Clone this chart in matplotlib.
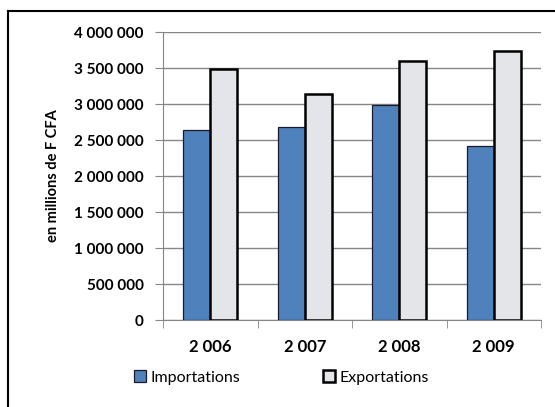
import numpy as np
import matplotlib
matplotlib.use("Agg")
import matplotlib.pyplot as plt

# data
years = ["2 006", "2 007", "2 008", "2 009"]
importations = [2640000, 2680000, 2980000, 2420000]
exportations = [3480000, 3140000, 3600000, 3740000]
y_ticks = [0, 500000, 1000000, 1500000, 2000000, 2500000, 3000000, 3500000, 4000000]

plt.rcParams["font.family"] = ["Lato", "DejaVu Sans"]

fig = plt.figure(figsize=(5.55, 4.07), dpi=100)
ax = fig.add_axes([163 / 555, 1 - 320 / 407, 378 / 555, 288 / 407])

x = np.arange(len(years))
w = 0.285

ax.bar(x - w / 2, importations, width=w, color="#4f81bd",
       edgecolor="#1a1a2a", linewidth=0.9, zorder=3, label="Importations")
ax.bar(x + w / 2, exportations, width=w, color="#e4e5e9",
       edgecolor="black", linewidth=1.8, zorder=3, label="Exportations")

ax.set_xlim(-0.5, len(years) - 0.5)
ax.set_ylim(0, 4000000)
ax.set_yticks(y_ticks)
ax.set_yticklabels([f"{v:,}".replace(",", " ") for v in y_ticks],
                   fontsize=11, fontweight="bold")
ax.set_xticks(x)
ax.set_xticklabels(years, fontsize=12, fontweight="bold")
ax.tick_params(axis="x", length=0, pad=14)
ax.set_xticks(np.arange(len(years) + 1) - 0.5, minor=True)
ax.tick_params(axis="x", which="minor", length=6, color="#868686")
ax.tick_params(axis="y", length=6, color="#868686", pad=8)

ax.grid(axis="y", color="#868686", linewidth=1, zorder=0)
for s in ["top", "right"]:
    ax.spines[s].set_visible(False)
ax.spines["left"].set_color("#868686")
ax.spines["bottom"].set_color("#868686")

ax.set_ylabel("en millions de F CFA", fontsize=10.5, fontweight="bold", labelpad=10)

fig.legend(loc="lower left", bbox_to_anchor=(120 / 555, 1 - 399 / 407),
           ncol=2, frameon=False, fontsize=11.5, handlelength=0.75,
           handleheight=0.75, handletextpad=0.25, columnspacing=5.2)

# outer chart border (right and bottom cut off)
fig.add_artist(plt.Line2D([8 / 555, 8 / 555], [0, 1 - 11 / 407],
                          transform=fig.transFigure, color="black", linewidth=1.5))
fig.add_artist(plt.Line2D([8 / 555, 1], [1 - 11 / 407, 1 - 11 / 407],
                          transform=fig.transFigure, color="black", linewidth=1.5))

fig.savefig("out.png", dpi=100)
